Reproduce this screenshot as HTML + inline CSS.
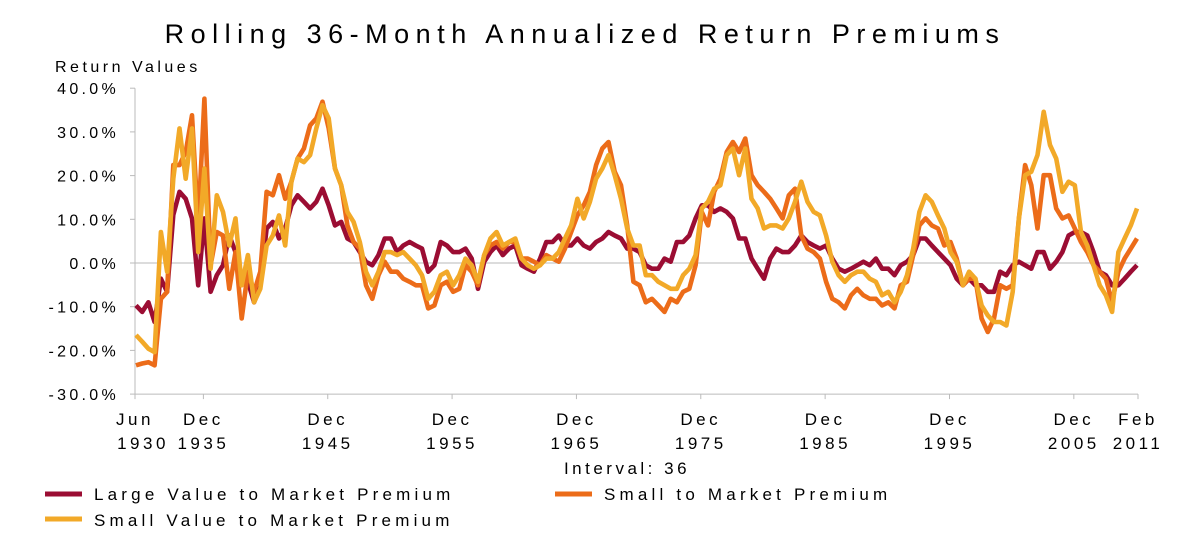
<!DOCTYPE html>
<html><head><meta charset="utf-8">
<style>
body{margin:0;background:#fff;}
svg text{font-family:"Liberation Sans",sans-serif;fill:#000;}
</style></head>
<body>
<svg id="chart" width="1179" height="542" viewBox="0 0 1179 542">
<text x="585" y="43" text-anchor="middle" font-size="27" letter-spacing="6.5">Rolling 36-Month Annualized Return Premiums</text>
<text x="55" y="72" font-size="16" letter-spacing="3.5">Return Values</text>
<text x="627" y="474" text-anchor="middle" font-size="17" letter-spacing="3.5">Interval: 36</text>
<g id="axes"></g>
<g id="series"></g>
<g>
 <g><line x1="45" y1="494" x2="82" y2="494" stroke="#9b0d33" stroke-width="5"/><text x="94" y="500" font-size="17" letter-spacing="4.2">Large Value to Market Premium</text></g>
 <g><line x1="555" y1="494" x2="592" y2="494" stroke="#ec6c19" stroke-width="5"/><text x="604" y="500" font-size="17" letter-spacing="4.2">Small to Market Premium</text></g>
 <g><line x1="45" y1="519" x2="82" y2="519" stroke="#f2a928" stroke-width="5"/><text x="94" y="526" font-size="17" letter-spacing="4.2">Small Value to Market Premium</text></g>
</g>
</svg>
<script>
const startYear = 1930.5;
const stepYears = 0.5;
const largeValue = [-9.7,-11.2,-9,-13.5,-3.6,-6.6,11,16.3,14.7,10.2,-5.1,10.2,-6.6,-2.8,-0.5,6.3,2.5,-2.8,-4.3,-9,-5.1,7.9,9.4,5.6,7.9,13.2,15.5,14,12.5,14,17,13.2,8.6,9.4,5.6,4.8,2.5,0.3,-0.5,1.8,5.6,
5.6,2.5,4,4.8,4,3.3,-2,-0.5,4.8,4,2.5,2.5,3.3,1,-5.9,0.3,2.5,4,1.8,3.3,4,-0.5,-1.3,-2,1,4.8,4.8,6.3,4,4,5.6,4,3.3,4.8,5.6,7.1,6.3,5.6,3.3,3.3,
2.5,-0.5,-1.3,-1.3,1,0.3,4.8,4.8,6.3,10.2,13.2,13.2,11.7,12.5,11.7,10.2,5.6,5.6,1,-1.3,-3.6,1,3.3,2.5,2.5,4,6.3,4.8,4,3.3,4,1,-1.3,-2,-1.3,-0.5,0.3,-0.5,1,-1.3,
-1.3,-2.8,-0.5,0.3,1.8,5.6,5.6,4,2.5,1,-0.5,-3.6,-5.1,-3.6,-5.1,-5.1,-6.6,-6.6,-2,-2.8,-0.5,0.3,-0.5,-1.3,2.5,2.5,-1.3,0.3,2.5,6.3,7.1,7.1,6.3,2.5,-2,-2.8,-5.1,-5.1,-3.6,-2,-0.5];
const small = [-23.4,-23,-22.7,-23.4,-8.2,-6.6,22.4,22.4,25.4,33.8,8.6,37.6,-0.5,7.1,6.3,-5.9,2.5,-12.7,-2,-6.6,-2,16.3,15.5,20.1,14.7,18.6,23.9,26.2,31.5,33.1,36.9,30.8,21.6,17.8,8.6,4.8,3.3,-5.1,-8.2,-2.8,0.3,
-2,-2,-3.6,-4.3,-5.1,-5.1,-10.4,-9.7,-5.1,-4.3,-6.6,-5.9,-0.5,-2,-5.1,1.8,4,4.8,3.3,4.8,4.8,1,1,0.3,-0.5,1.8,1,0.3,3.3,7.1,10.9,13.2,16.3,22.4,26.2,27.7,20.9,17.8,8.6,-4.3,
-5.1,-9,-8.2,-9.7,-11.2,-8.2,-9,-6.6,-5.9,-0.5,11.7,8.6,16.3,19.3,25.4,27.7,25.4,28.5,20.1,17.8,16.3,14.7,12.5,10.2,15.5,17,6.3,3.3,2.5,1,-4.3,-8.2,-9,-10.4,-7.4,-5.9,-7.4,-8.2,-8.2,-9.7,
-9,-10.4,-5.1,-4.3,1.8,8.6,10.2,8.6,7.9,4,4.8,1,-5.1,-3.6,-3.6,-12.7,-15.8,-12.7,-5.1,-5.9,-5.1,10.2,22.4,17.8,7.9,20.1,20.1,12.5,10.2,10.9,7.9,4.8,2.5,-0.5,-2,-3.6,-9,-2,1,3.3,5.6];
const smallValue = [-16.5,-18,-19.6,-20.4,7.1,-2,19.3,30.8,19.3,30.8,2.5,21.6,-1.3,15.5,11.7,4,10.2,-5.1,1.8,-9,-5.9,4,6.3,10.9,4,18.6,23.9,23.1,24.7,30.8,36.1,33.1,21.6,17.8,11.7,9.4,4.8,-2,-5.1,-2,2.5,
2.5,1.8,2.5,1,-0.5,-2.8,-8.2,-6.6,-2.8,-2,-5.1,-2.8,1,-0.5,-4.3,1.8,5.6,7.1,4,4.8,5.6,1,-0.5,-1.3,-0.5,1,1,2.5,5.6,8.6,14.7,10.2,14,19.3,21.6,24.7,20.1,14.7,7.9,4,
4,-2.8,-2.8,-4.3,-5.1,-5.9,-5.9,-2.8,-1.3,1.8,12.5,14,17,17.8,24.7,26.2,20.1,26.2,14.7,12.5,7.9,8.6,8.6,7.9,10.2,14,18.6,14,11.7,10.9,6.3,0.3,-2.8,-4.3,-2.8,-2,-2,-3.6,-4.3,-7.4,
-6.6,-9,-6.6,-2.8,3.3,11.7,15.5,14,10.9,7.9,2.5,0.3,-5.1,-2,-3.6,-9.7,-12,-13.5,-13.5,-14.3,-6.6,10.2,20.1,20.9,24.7,34.6,27,23.9,16.3,18.6,17.8,7.1,4,-0.5,-5.1,-7.4,-11.2,2.5,5.6,8.6,12.5];
const yTicks = [40,30,20,10,0,-10,-20,-30];
const xTickYears = [1930.42,1935.92,1945.92,1955.92,1965.92,1975.92,1985.92,1995.92,2005.92,2011.08];
const xTickTop = ["Jun","Dec","Dec","Dec","Dec","Dec","Dec","Dec","Dec","Feb"];
const xTickBottom = ["1930","1935","1945","1955","1965","1975","1985","1995","2005","2011"];

const NS = "http://www.w3.org/2000/svg";
const X0 = 135, X1 = 1138, T0 = 1930.42, T1 = 2011.08;
const Y0 = 263, PX = 4.37;
function xScale(t){ return X0 + (t - T0) * (X1 - X0) / (T1 - T0); }
function yScale(v){ return Y0 - v * PX; }
function mk(tag, attrs, parent){ const e = document.createElementNS(NS, tag); for (const k in attrs) e.setAttribute(k, attrs[k]); parent.appendChild(e); return e; }

const axes = document.getElementById('axes');
const zl = mk('line', {x1:X0, x2:X1, y1:yScale(0), y2:yScale(0), stroke:'#c8c8c8', 'stroke-width':1.2}, axes);


const ya = mk('line', {x1:X0, x2:X0, y1:yScale(40), y2:yScale(-30), stroke:'#bbb', 'stroke-width':1}, axes);


const xa = mk('line', {x1:X0, x2:X1, y1:yScale(-30), y2:yScale(-30), stroke:'#bbb', 'stroke-width':1}, axes);


yTicks.forEach(v => {
  mk('line', {x1:X0-5, x2:X0, y1:yScale(v), y2:yScale(v), stroke:'#bbb'}, axes);
  const t = mk('text', {x:X0-16, y:yScale(v)+6, 'text-anchor':'end', 'font-size':16, 'letter-spacing':3.3}, axes);
  t.textContent = v.toFixed(1) + '%';
  
  
});
xTickYears.forEach((yr, i) => {
  const x = xScale(yr);
  mk('line', {x1:x, x2:x, y1:yScale(-30), y2:yScale(-30)+5, stroke:'#bbb'}, axes);
  const a = mk('text', {x:x, y:425, 'text-anchor':'middle', 'font-size':17, 'letter-spacing':3.5}, axes);
  a.textContent = xTickTop[i];
  
  
  const b = mk('text', {x:x + (i===0?8:0), y:449, 'text-anchor':'middle', 'font-size':17, 'letter-spacing':3.5}, axes);
  b.textContent = xTickBottom[i];
  
  
});

const ser = document.getElementById('series');
function drawLine(vals, color, name){
  const pts = vals.map((v, i) => xScale(startYear + i * stepYears).toFixed(1) + ',' + yScale(v).toFixed(1)).join(' ');
  const p = mk('polyline', {points:pts, fill:'none', stroke:color, 'stroke-width':4.6, 'stroke-linejoin':'round'}, ser);
  
  
}
drawLine(largeValue, '#9b0d33', 'large-value-premium-line');
drawLine(small, '#ec6c19', 'small-premium-line');
drawLine(smallValue, '#f2a928', 'small-value-premium-line');
</script>
</body></html>
